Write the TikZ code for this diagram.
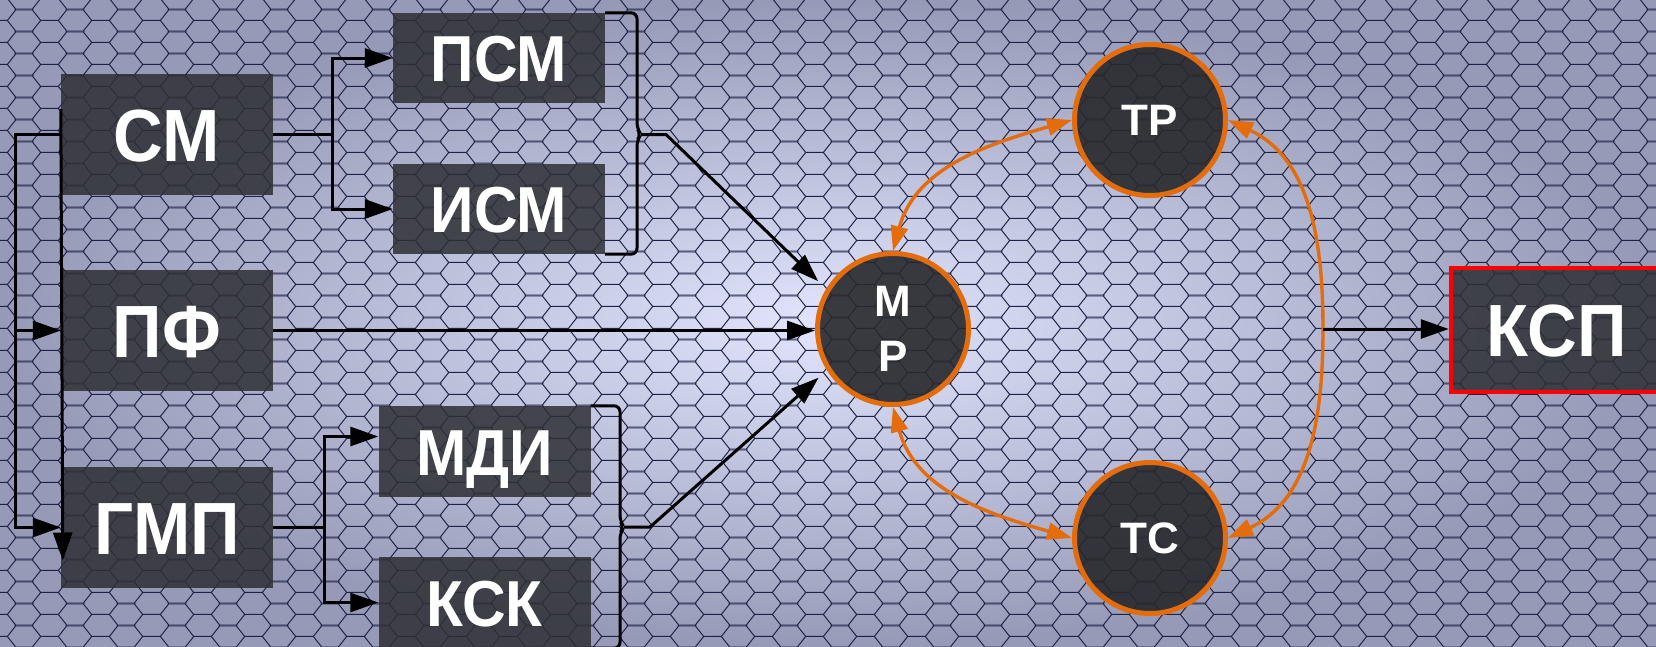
\documentclass[tikz,border=0pt]{standalone}
\usepackage{fontspec}
\setmainfont{Liberation Sans}
\newfontfamily\boxfont{Liberation Sans}[FakeStretch=0.93]
\usetikzlibrary{arrows.meta,calc,patterns}

\definecolor{hexbg}{RGB}{226,229,253}
\definecolor{hexedge}{RGB}{150,154,182}
\definecolor{hexline}{RGB}{30,34,70}
\definecolor{boxgray}{RGB}{46,47,52}
\definecolor{mrorange}{RGB}{228,108,10}

\newcommand\hexcell[2]{%
  \pgfpathmoveto{\pgfpoint{#1pt+17pt}{#2pt}}%
  \pgfpathlineto{\pgfpoint{#1pt+8.5pt}{#2pt+11pt}}%
  \pgfpathlineto{\pgfpoint{#1pt-8.5pt}{#2pt+11pt}}%
  \pgfpathlineto{\pgfpoint{#1pt-17pt}{#2pt}}%
  \pgfpathlineto{\pgfpoint{#1pt-8.5pt}{#2pt-11pt}}%
  \pgfpathlineto{\pgfpoint{#1pt+8.5pt}{#2pt-11pt}}%
  \pgfpathclose}
\pgfdeclarepatternformonly{hexcells}{\pgfpointorigin}{\pgfpoint{51pt}{22pt}}{\pgfpoint{51pt}{22pt}}{%
  \pgfsetlinewidth{1pt}%
  \hexcell{0}{0}\hexcell{51}{0}\hexcell{0}{22}\hexcell{51}{22}\hexcell{25.5}{11}%
  \pgfusepath{stroke}}

\tikzset{
  blk/.style={fill=boxgray, fill opacity=0.85, text opacity=1, text=white,
    minimum width=212pt, inner sep=0pt},
  bigblk/.style={blk, minimum height=121pt, text height=53pt, text depth=0pt,
    font=\boxfont\bfseries\fontsize{74}{74}\selectfont},
  smallblk/.style={blk, minimum height=90pt, text height=47pt, text depth=0pt,
    font=\boxfont\bfseries\fontsize{65}{65}\selectfont},
  rnd/.style={circle, draw=mrorange, line width=5pt, fill=boxgray!85!black,
    fill opacity=0.9, text opacity=1, text=white, minimum size=151pt, inner sep=0pt,
    align=center, font=\bfseries\fontsize{44}{55}\selectfont},
  conn/.style={line width=3pt, -{Triangle[length=28pt,width=19pt]}},
  brk/.style={line width=3pt, rounded corners=6pt},
  orng/.style={draw=mrorange, line width=3.4pt,
    {Triangle[length=25pt,width=17pt]}-{Triangle[length=25pt,width=17pt]}}
}

\begin{document}
\begin{tikzpicture}[x=1pt,y=1pt]
\useasboundingbox (0,0) rectangle (1656,-646);
\clip (0,0) rectangle (1656,-646);
\shade[inner color=hexbg, outer color=hexedge] (0,0) rectangle (1656,-646);
\fill[pattern=hexcells, pattern color=hexline] (0,0) rectangle (1656,-646);

\node[bigblk] (sm) at (167,-134.5) {СМ};
\node[bigblk] (pf) at (167,-330.5) {ПФ};
\node[bigblk] (gmp) at (167,-527.5) {ГМП};
\node[smallblk] (psm) at (499,-58) {ПСМ};
\node[smallblk] (ism) at (499,-209) {ИСМ};
\node[smallblk, minimum height=91pt] (mdi) at (484.5,-451.5) {МДИ};
\node[smallblk, minimum height=91pt] (ksk) at (484.5,-602.5) {КСК};
\node[rnd] (mr) at (893,-329) {М\\Р};
\node[rnd] (tr) at (1150,-120) {ТР};
\node[rnd] (ts) at (1150,-538) {ТС};
\node[bigblk, draw=red, line width=4.5pt, minimum height=124pt] (ksp) at (1557,-330) {КСП};

\coordinate (rail) at (15,-134.5);
\draw[conn] (sm.west) -- (rail) |- (gmp.west);
\draw[conn] (rail |- pf.west) -- (pf.west);
\draw[conn] ($(sm.north west)+(0,-35)$) -- ($(gmp.west)+(2,-33)$);

\coordinate (smfork) at ($(sm.east)+(59,0)$);
\draw[conn] (sm.east) -- (smfork) |- (psm.west);
\draw[conn] (smfork) |- (ism.west);
\coordinate (gmpfork) at ($(gmp.east)+(51,0)$);
\draw[conn] (gmp.east) -- (gmpfork) |- ($(mdi.west)+(0,15)$);
\draw[conn] (gmpfork) |- (ksk.west);

\coordinate (bt1) at (641,-134.5);
\draw[brk] (psm.north east) -| ($(bt1)+(-4,6)$) -- (bt1) -- ($(bt1)+(-4,-6)$) |- (ism.south east);
\draw[conn, shorten >=11pt] (bt1) -- ++(25,0) -- (mr.149);
\coordinate (bt2) at (624,-527);
\draw[brk] (mdi.north east) -| ($(bt2)+(-4,6)$) -- (bt2) -- ($(bt2)+(-4,-6)$) |- (ksk.south east);
\draw[conn, shorten >=11pt] (bt2) -- ++(26,0) -- (mr.212);
\draw[conn] (pf.east) -- (pf.east -| mr.west);

\draw[orng] (mr.north) to[out=75,in=196] (tr.west);
\draw[orng] (mr.south) to[out=-75,in=164] (ts.west);
\coordinate (arcmid) at (1323,-329);
\draw[orng] (tr.east) to[out=-25,in=90] (arcmid) to[out=-90,in=25] (ts.east);
\draw[conn] (arcmid) -- (arcmid -| ksp.west);
\end{tikzpicture}
\end{document}
